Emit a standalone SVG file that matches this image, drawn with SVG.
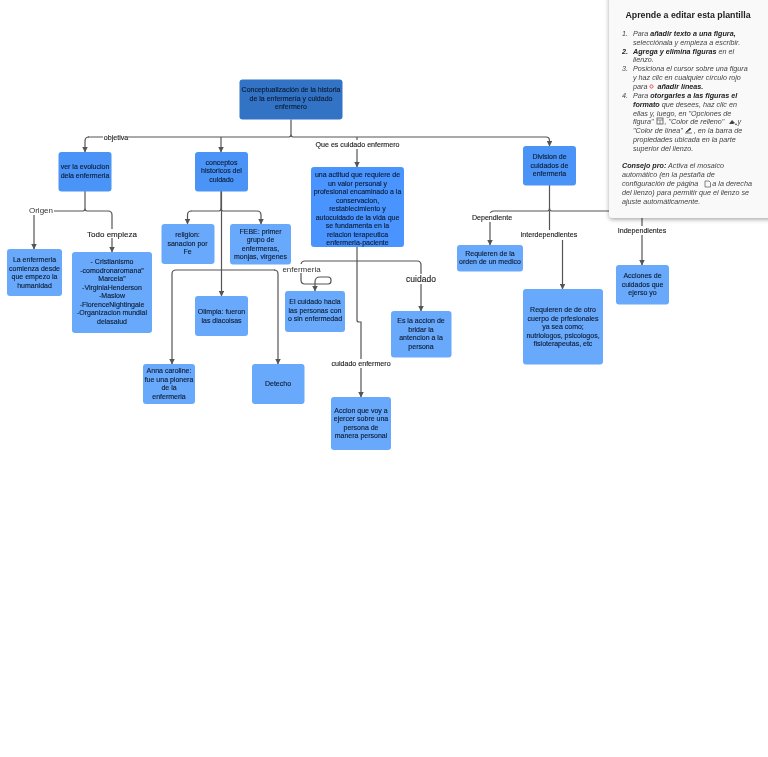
<svg xmlns="http://www.w3.org/2000/svg" width="768" height="757" viewBox="0 0 768 757">
<defs>
<style>
text{font-family:"Liberation Sans",Arial,sans-serif;font-size:7px;fill:#0c1a30;text-anchor:middle;stroke:#0c1a30;stroke-width:.12px;filter:blur(.25px)}
.c{fill:none;stroke:#555;stroke-width:1.2;marker-end:url(#a)}
.n{fill:none;stroke:#555;stroke-width:1.2}
.d{fill:#4a94f8}.m{fill:#4a94ff}.l{fill:#69a9fb}
.lb{fill:#1a1a1a;stroke:#1a1a1a;font-size:7.100px}
.lbg{fill:#fff}
.p{font-size:7.200px;font-style:italic;fill:#444;stroke:none;text-anchor:start}
.pb{font-weight:bold;font-style:italic;fill:#222}
</style>
<marker id="a" viewBox="0 0 6 6" refX="5.500" refY="3" markerWidth="5.500" markerHeight="5.500" markerUnits="userSpaceOnUse" orient="auto"><path d="M0 0L6 3L0 6z" fill="#555"/></marker>
<filter id="s" x="-10%" y="-10%" width="120%" height="120%"><feDropShadow dx="0" dy="1.500" stdDeviation="2" flood-color="#000" flood-opacity=".35"/></filter>
</defs>
<rect width="768" height="757" fill="#fff"/>
<g id="connectors">
<path class="n" d="M291 119.500V134q0 3-2 3M291 134q0 3 2 3M88 137H289M293 137H546"/>
<path class="c" d="M89 137q-4 0-4 4V152"/>
<path class="c" d="M221 137V152"/>
<path class="c" d="M357 137V167"/>
<path class="c" d="M546 137q3.500 0 3.500 3.500V146"/>
<path class="n" d="M85 191V208q0 3-2 3M85 208q0 3 2 3M38 211H83M87 211H108"/>
<path class="c" d="M34 211V249"/>
<path class="c" d="M108 211q4 0 4 4V252"/>
<path class="n" d="M221 191V208q0 3-2 3M221 208q0 3 2 3M191 211H219M223 211H257"/>
<path class="c" d="M191.500 211q-4 0-4 4V224"/>
<path class="c" d="M257 211q4 0 4 4V224"/>
<path class="c" d="M221.500 191V296"/>
<path class="n" d="M222 270H275"/>
<path class="c" d="M222 270H176q-4 0-4 4V364"/>
<path class="c" d="M274 270q4 0 4 4V364"/>
<path class="n" d="M357 247V261"/>
<path class="c" d="M357 261H305q-4 0-4 4V280q0 4 4 4H328q3 0 3-3v-1q0-3-3-3H320q-5 0-5 5V291"/>
<path class="c" d="M357 261H417q4 0 4 4V311"/>
<path class="c" d="M357 261V320q0 2 2 2h2V397"/>
<path class="n" d="M549.500 185V208q0 3-2 3M549.500 208q0 3 2 3M494 211H547.500M551.500 211H612"/>
<path class="c" d="M494 211q-4 0-4 4V245"/>
<path class="n" d="M549.500 211V232"/>
<path class="c" d="M562.500 240V289"/>
<path class="c" d="M642 216V265"/>
</g>
<g id="edge-labels">
<rect class="lbg" x="103" y="133" width="25" height="8"/><text class="lb" x="116" y="140">objetiva</text>
<rect class="lbg" x="29" y="206" width="25" height="9"/><text class="lb" x="41" y="213" style="font-size:8px;stroke:none;fill:#333">Origen</text>
<rect class="lbg" x="87" y="229" width="50" height="9"/><text class="lb" x="112" y="237" style="font-size:8px">Todo empieza</text>
<rect class="lbg" x="315" y="140" width="85" height="9"/><text class="lb" x="357.500" y="147">Que es cuidado enfermero</text>
<rect class="lbg" x="282" y="264" width="38" height="9"/><text class="lb" x="301.500" y="272" style="font-size:8px;stroke:none;fill:#333">enfermeria</text>
<rect class="lbg" x="405" y="274" width="32" height="10"/><text class="lb" x="421" y="282" style="font-size:8.500px">cuidado</text>
<rect class="lbg" x="331" y="359" width="60" height="9"/><text class="lb" x="361" y="366">cuidado enfermero</text>
<rect class="lbg" x="471" y="213" width="42" height="9"/><text class="lb" x="492" y="220">Dependiente</text>
<rect class="lbg" x="520" y="230" width="58" height="9"/><text class="lb" x="549" y="237">interdependientes</text>
<rect class="lbg" x="617" y="226" width="50" height="9"/><text class="lb" x="642" y="233">Independientes</text>
</g>
<g id="root"><rect x="239.500" y="79.500" width="103" height="40" rx="3" fill="#3273c6"/><text x="291" y="92">Conceptualización de la historia</text><text x="291" y="101">de la enfermería y cuidado</text><text x="291" y="109">enfermero</text></g>
<g id="ver"><rect class="d" x="58.500" y="152" width="53" height="39.500" rx="3"/><text x="85" y="169">ver la evolucion</text><text x="85" y="178">dela enfermeria</text></g>
<g id="conceptos"><rect class="d" x="195" y="152" width="53" height="39.500" rx="3"/><text x="221.500" y="164.500">conceptos</text><text x="221.500" y="173">historicos del</text><text x="221.500" y="181.500">cuidado</text></g>
<g id="actitud"><rect class="m" x="311" y="167" width="93" height="80" rx="3"/><text x="357.500" y="177">una actitud que requiere de</text><text x="357.500" y="185.500">un valor personal y</text><text x="357.500" y="194">profesional encaminado a la</text><text x="357.500" y="202.500">conservacion,</text><text x="357.500" y="211">restablecimiento y</text><text x="357.500" y="219.500">autocuidado de la vida que</text><text x="357.500" y="228">se fundamenta en la</text><text x="357.500" y="236.500">relacion terapeutica</text><text x="357.500" y="245">enfermeria-paciente</text></g>
<g id="division"><rect class="d" x="523" y="146" width="53" height="39.500" rx="3"/><text x="549.500" y="159">Division de</text><text x="549.500" y="167.500">cuidados de</text><text x="549.500" y="176">enfermeria</text></g>
<g id="origen-n"><rect class="l" x="7" y="249" width="55" height="47" rx="3"/><text x="34.500" y="262">La enfermeria</text><text x="34.500" y="270.500">comienza desde</text><text x="34.500" y="279">que empezo la</text><text x="34.500" y="287.500">humanidad</text></g>
<g id="cristianismo"><rect class="l" x="72" y="252" width="80" height="81" rx="3"/><text x="112" y="264">- Cristianismo</text><text x="112" y="272.500">-comodronaromana"</text><text x="112" y="281">Marcela"</text><text x="112" y="289.500">-VirginiaHenderson</text><text x="112" y="298">-Maslow</text><text x="112" y="306.500">-FlorenceNightingale</text><text x="112" y="315">-Organizacion mundial</text><text x="112" y="323.500">delasalud</text></g>
<g id="religion"><rect class="l" x="161.500" y="224" width="53" height="40" rx="3"/><text x="187.500" y="237">religion:</text><text x="187.500" y="245.500">sanacion por</text><text x="187.500" y="254">Fe</text></g>
<g id="febe"><rect class="l" x="230" y="224" width="61" height="40.500" rx="3"/><text x="260.500" y="233.500">FEBE: primer</text><text x="260.500" y="242">grupo de</text><text x="260.500" y="250.500">enfermeras,</text><text x="260.500" y="259">monjas, virgenes</text></g>
<g id="olimpia"><rect class="l" x="195" y="296" width="53" height="40" rx="3"/><text x="221.500" y="314">Olimpia: fueron</text><text x="221.500" y="322.500">las diacoisas</text></g>
<g id="anna"><rect class="l" x="143" y="364" width="52" height="40" rx="3"/><text x="169" y="373">Anna caroline:</text><text x="169" y="381.500">fue una pionera</text><text x="169" y="390">de la</text><text x="169" y="398.500">enfermeria</text></g>
<g id="detecho"><rect class="l" x="252" y="364" width="52.500" height="40" rx="3"/><text x="278" y="385.500">Detecho</text></g>
<g id="cuidado-hacia"><rect class="l" x="285" y="291" width="60" height="41" rx="3"/><text x="315" y="304">El cuidado hacia</text><text x="315" y="312.500">las personas con</text><text x="315" y="321">o sin enfermedad</text></g>
<g id="accion-brindar"><rect class="l" x="391" y="311" width="60.500" height="46.500" rx="3"/><text x="421" y="323">Es la accion de</text><text x="421" y="331.500">bridar la</text><text x="421" y="340">antencion a la</text><text x="421" y="348.500">persona</text></g>
<g id="accion-ejercer"><rect class="l" x="331" y="397" width="60" height="53" rx="3"/><text x="361" y="412.500">Accion que voy a</text><text x="361" y="421">ejercer sobre una</text><text x="361" y="429.500">persona de</text><text x="361" y="438">manera personal</text></g>
<g id="dep"><rect class="l" x="457" y="245" width="66" height="26.500" rx="3"/><text x="490" y="255.500">Requieren de la</text><text x="490" y="264">orden de un medico</text></g>
<g id="inter"><rect class="l" x="523" y="289" width="80" height="75.500" rx="3"/><text x="563" y="312">Requieren de de otro</text><text x="563" y="320.500">cuerpo de prfesionales</text><text x="563" y="329">ya sea como;</text><text x="563" y="337.500">nutriologos, psicologos,</text><text x="563" y="346">fisioterapeutas, etc</text></g>
<g id="indep"><rect class="l" x="616" y="265" width="53" height="39.500" rx="3"/><text x="642.500" y="278">Acciones de</text><text x="642.500" y="286.500">cuidados que</text><text x="642.500" y="295">ejerso yo</text></g>
<g id="panel">
<rect x="609" y="-6" width="164" height="224" rx="4" fill="#f9f9f9" filter="url(#s)"/>
<text x="688" y="18" style="font-size:8.800px;font-weight:bold;fill:#222;stroke:none">Aprende a editar esta plantilla</text>
<text class="p" x="622" y="36">1.</text><text class="p" x="633" y="36">Para <tspan class="pb">añadir texto a una figura,</tspan></text>
<text class="p" x="633" y="45">selecciónala y empieza a escribir.</text>
<text class="p pb" x="622" y="53.500">2.</text><text class="p" x="633" y="53.500"><tspan class="pb">Agrega y elimina figuras</tspan> en el</text>
<text class="p" x="633" y="62">lienzo.</text>
<text class="p" x="622" y="71">3.</text><text class="p" x="633" y="71">Posiciona el cursor sobre una figura</text>
<text class="p" x="633" y="80">y haz clic en cualquier círculo rojo</text>
<text class="p" x="633" y="89">para <tspan dx="8" class="pb">añadir líneas.</tspan></text>
<circle cx="651.500" cy="86.500" r="1.600" fill="none" stroke="#e05050" stroke-width="1"/>
<text class="p" x="622" y="97.500">4.</text><text class="p" x="633" y="97.500">Para <tspan class="pb">otorgarles a las figuras el</tspan></text>
<text class="p" x="633" y="106.500"><tspan class="pb">formato</tspan> que desees, haz clic en</text>
<text class="p" x="633" y="115.500">ellas y, luego, en "Opciones de</text>
<text class="p" x="633" y="124">figura" <tspan dx="9">, "Color de relleno"</tspan> <tspan dx="11">y</tspan></text>
<rect x="657" y="118" width="6" height="6" fill="none" stroke="#555" stroke-width=".8"/><path d="M657 120h6M660 120v4" stroke="#555" stroke-width=".6"/>
<path d="M729 124l3-4 3 3-2 1zM736 123l1 2h-2z" fill="#444"/>
<text class="p" x="633" y="133">"Color de línea" <tspan dx="9">, en la barra de</tspan></text>
<path d="M686 132l4-4 1 1-4 3zM685 133h7" stroke="#444" stroke-width=".7" fill="#444"/>
<text class="p" x="633" y="142">propiedades ubicada en la parte</text>
<text class="p" x="633" y="150.500">superior del lienzo.</text>
<text class="p" x="622" y="168"><tspan class="pb">Consejo pro:</tspan> Activa el mosaico</text>
<text class="p" x="622" y="177">automático (en la pestaña de</text>
<text class="p" x="622" y="186">configuración de página <tspan dx="12">a la derecha</tspan></text>
<path d="M705 181h4l1.500 1.500V187h-5.500z" fill="none" stroke="#555" stroke-width=".7"/>
<text class="p" x="622" y="195">del lienzo) para permitir que el lienzo se</text>
<text class="p" x="622" y="203.500">ajuste automáticamente.</text>
</g>
</svg>
